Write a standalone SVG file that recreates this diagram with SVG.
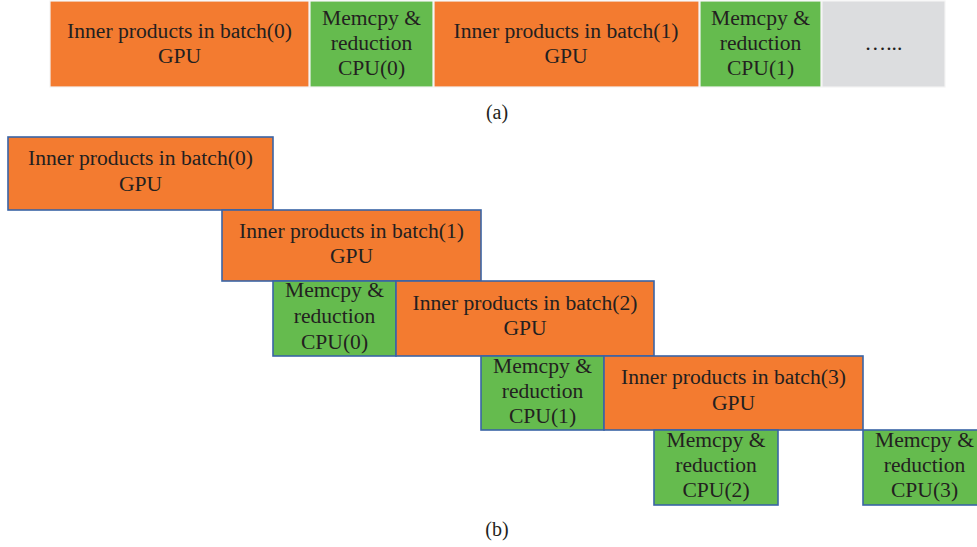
<svg xmlns="http://www.w3.org/2000/svg" width="977" height="547" viewBox="0 0 977 547">
<style>
.o{fill:#F37B30}
.g{fill:#65BB4E}
.gr{fill:#DCDDDF}
.a{stroke:#F4F4F4;stroke-width:1.2}
.b{stroke:#3A64A6;stroke-width:1.6}
text{font-family:"Liberation Serif","Times New Roman",serif;font-size:21.6px;fill:#231F20;text-anchor:middle}
.lbl{font-size:20px}
</style>
<rect width="977" height="547" fill="#FFFFFF"/>
<g id="a_gpu0"><rect class="o a" x="50" y="1" width="259" height="86"/><text x="179.5" y="38">Inner products in batch(0)</text><text x="179.5" y="63">GPU</text></g>
<g id="a_cpu0"><rect class="g a" x="310" y="1" width="123" height="86"/><text x="371.5" y="25">Memcpy &amp;</text><text x="371.5" y="50">reduction</text><text x="371.5" y="75">CPU(0)</text></g>
<g id="a_gpu1"><rect class="o a" x="434" y="1" width="265" height="86"/><text x="566" y="38">Inner products in batch(1)</text><text x="566" y="63">GPU</text></g>
<g id="a_cpu1"><rect class="g a" x="700" y="1" width="121" height="86"/><text x="760.5" y="25">Memcpy &amp;</text><text x="760.5" y="50">reduction</text><text x="760.5" y="75">CPU(1)</text></g>
<g id="a_more"><rect class="gr a" x="822" y="1" width="123" height="86"/><text x="883.5" y="50">…...</text></g>
<text class="lbl" x="497" y="119">(a)</text>
<g id="b_gpu0"><rect class="o b" x="8" y="137" width="265" height="73"/><text x="140.5" y="165">Inner products in batch(0)</text><text x="140.5" y="191">GPU</text></g>
<g id="b_gpu1"><rect class="o b" x="222" y="210" width="259" height="71"/><text x="351.5" y="238">Inner products in batch(1)</text><text x="351.5" y="263">GPU</text></g>
<g id="b_cpu0"><rect class="g b" x="273" y="281" width="123" height="75"/><text x="334.5" y="297">Memcpy &amp;</text><text x="334.5" y="323">reduction</text><text x="334.5" y="349">CPU(0)</text></g>
<g id="b_gpu2"><rect class="o b" x="396" y="281" width="258" height="75"/><text x="525" y="310">Inner products in batch(2)</text><text x="525" y="335">GPU</text></g>
<g id="b_cpu1"><rect class="g b" x="481" y="356" width="123" height="74"/><text x="542.5" y="373">Memcpy &amp;</text><text x="542.5" y="398">reduction</text><text x="542.5" y="423">CPU(1)</text></g>
<g id="b_gpu3"><rect class="o b" x="604" y="356" width="259" height="74"/><text x="733.5" y="384">Inner products in batch(3)</text><text x="733.5" y="410">GPU</text></g>
<g id="b_cpu2"><rect class="g b" x="654" y="430" width="124" height="75"/><text x="716" y="447">Memcpy &amp;</text><text x="716" y="472">reduction</text><text x="716" y="497">CPU(2)</text></g>
<g id="b_cpu3"><rect class="g b" x="863" y="430" width="124" height="75"/><text x="924.5" y="447">Memcpy &amp;</text><text x="924.5" y="472">reduction</text><text x="924.5" y="497">CPU(3)</text></g>
<g id="connectors"></g>
<text class="lbl" x="497" y="536">(b)</text>
</svg>
